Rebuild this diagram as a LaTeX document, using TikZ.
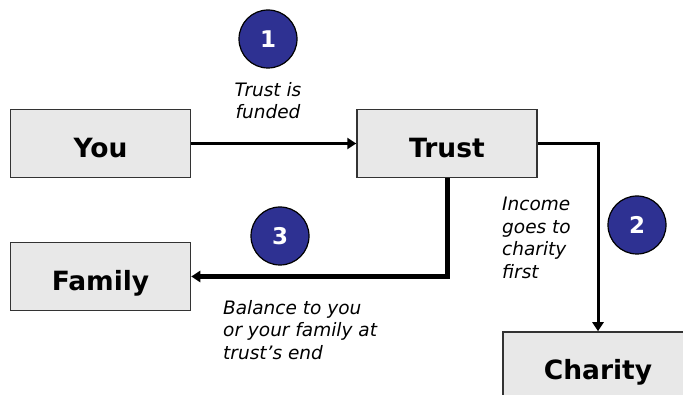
\documentclass[tikz,border=0pt]{standalone}
\usepackage{fontspec}
\setmainfont{DejaVu Sans}
\usepackage{tikz}
\usetikzlibrary{arrows.meta}
\definecolor{boxgray}{RGB}{232,232,232}
\definecolor{stepblue}{RGB}{46,49,146}

\begin{document}
\begin{tikzpicture}[x=1pt,y=-1pt,
        party/.style={draw=black!80,line width=1.5pt,fill=boxgray,minimum width=180pt,minimum height=68pt,inner sep=0pt,text height=28pt,text depth=0pt,font=\fontsize{26.5}{30}\selectfont\bfseries},
        stepnum/.style={circle,draw=black,line width=1.2pt,fill=stepblue,text=white,minimum size=58pt,inner sep=0pt,font=\fontsize{23}{26}\selectfont\bfseries},
        note/.style={inner sep=0pt,font=\fontsize{18.5}{22.5}\selectfont\itshape},
        flow/.style={line width=3pt,-{Triangle[length=9pt,width=11pt]}}]
                \useasboundingbox (0,0) rectangle (683,395);
                \node[party] (you) at (100.5,143.5) {You};
                \node[party] (trust) at (447,143.5) {Trust};
                \node[party] (family) at (100.5,276.5) {Family};
                \node[party,minimum width=190pt] (charity) at (598,366) {Charity};
                \node[stepnum] (one) at (268,39) {1};
                \node[stepnum] (two) at (637,225) {2};
                \node[stepnum] (three) at (280,236) {3};
                \node[note,align=center,anchor=north] (funded) at (268,82) {Trust is\\funded};
                \node[note,align=left,anchor=north west] (income) at (502,197) {Income\\goes to\\charity\\first};
                \node[note,align=left,anchor=north west] (balance) at (223,300) {Balance to you\\or your family at\\trust’s end};
                \draw[flow] (you.east) -- (trust.west);
                \draw[flow] (trust.east) -| (charity.north);
                \draw[flow,line width=5pt] (trust.south) |- (family.east);
            \end{tikzpicture}
\end{document}
